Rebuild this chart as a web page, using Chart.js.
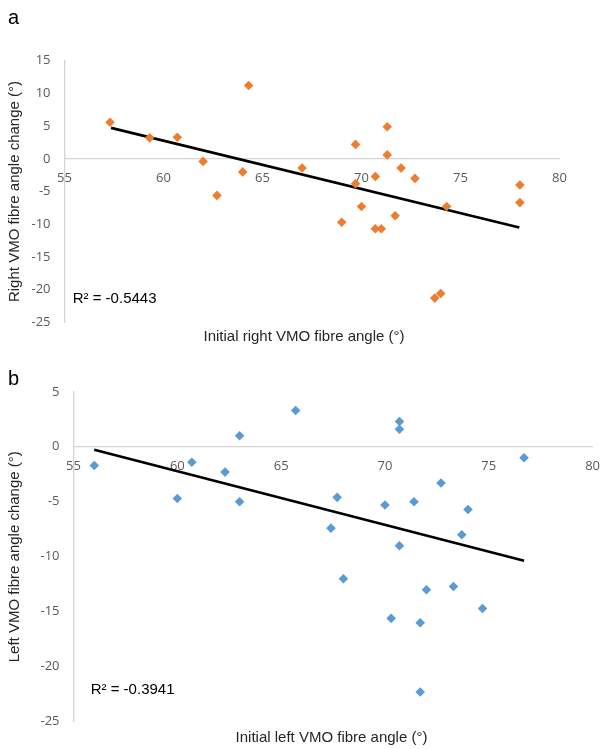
<!DOCTYPE html>
<html>
<head>
<meta charset="utf-8">
<script src="https://cdn.jsdelivr.net/npm/chart.js@4/dist/chart.umd.min.js"></script>
<style>
  html, body { margin: 0; padding: 0; background: #ffffff; }
  #wrap { position: relative; width: 612px; height: 749px; overflow: hidden; }
  canvas { position: absolute; left: 0; }
  #c1 { top: 0; }
  #c2 { top: 370px; }
</style>
</head>
<body>
<div id="wrap">
  <canvas id="c1" width="612" height="370"></canvas>
  <canvas id="c2" width="612" height="379"></canvas>
</div>
<script>
// ---- Data ----
const xTicks = [55, 60, 65, 70, 75, 80];
const yTicksTop = [15, 10, 5, 0, -5, -10, -15, -20, -25];
const yTicksBottom = [5, 0, -5, -10, -15, -20, -25];

// Panel a: right VMO
const rightInitial = [57.3, 59.3, 60.7, 62.0, 62.7, 64.0, 64.3, 67.0, 69.7, 69.7, 70.7, 71.3, 71.3, 72.0, 72.7, 78.0, 78.0, 74.3, 70.0, 69.0, 71.7, 70.7, 71.0, 73.7, 74.0];
const rightChange  = [5.6, 3.2, 3.3, -0.4, -5.6, -2.0, 11.2, -1.4, 2.2, -3.8, -2.7, 4.9, 0.6, -1.4, -3.0, -4.0, -6.7, -7.3, -7.3, -9.7, -8.7, -10.7, -10.7, -21.3, -20.6];
const rightTrendX = [57.35, 77.97];
const rightTrendY = [4.73, -10.52];
const rightR2 = "R\u00B2 = -0.5443";

// Panel b: left VMO
const leftInitial = [56.0, 60.0, 60.7, 62.3, 63.0, 63.0, 65.7, 70.7, 70.7, 76.7, 72.7, 67.7, 70.0, 71.4, 74.0, 67.4, 73.7, 70.7, 68.0, 72.0, 73.3, 74.7, 70.3, 71.7, 71.7];
const leftChange  = [-1.7, -4.7, -1.4, -2.3, 1.0, -5.0, 3.3, 2.3, 1.6, -1.0, -3.3, -4.6, -5.3, -5.0, -5.7, -7.4, -8.0, -9.0, -12.0, -13.0, -12.7, -14.7, -15.6, -16.0, -22.3];
const leftTrendX = [56.0, 76.7];
const leftTrendY = [-0.26, -10.37];
const leftR2 = "R\u00B2 = -0.3941";

const xTitleTop = "Initial right VMO fibre angle (\u00B0)";
const yTitleTop = "Right VMO fibre angle change (\u00B0)";
const xTitleBottom = "Initial left VMO fibre angle (\u00B0)";
const yTitleBottom = "Left VMO fibre angle change (\u00B0)";

// ---- Helpers ----
const zip = (xs, ys) => xs.map((x, i) => ({ x: x, y: ys[i] }));
const TICK_FONT = { family: "'Open Sans', 'Liberation Sans', sans-serif", size: 13 };
const TEXT_FAMILY = "'Liberation Sans', Arial, sans-serif";

function textPlugin(cfg) {
  return {
    id: 'panelText',
    afterDraw(chart) {
      const ctx = chart.ctx;
      ctx.save();
      // panel letter
      ctx.fillStyle = '#000';
      ctx.font = '20px ' + TEXT_FAMILY;
      ctx.textAlign = 'left';
      ctx.textBaseline = 'alphabetic';
      ctx.fillText(cfg.letter, cfg.letterX, cfg.letterY);
      // R^2 annotation
      ctx.font = '15px ' + TEXT_FAMILY;
      ctx.textBaseline = 'middle';
      ctx.fillText(cfg.r2, cfg.r2X, cfg.r2Y);
      // x-axis title
      ctx.fillStyle = '#262626';
      ctx.textAlign = 'center';
      ctx.fillText(cfg.xTitle, cfg.xTitleX, cfg.xTitleY);
      ctx.restore();
    }
  };
}

function makeChart(canvasId, opts) {
  const ticksArr = opts.yTicks;
  return new Chart(document.getElementById(canvasId), {
    type: 'scatter',
    data: {
      datasets: [
        {
          label: 'data',
          data: zip(opts.xs, opts.ys),
          pointStyle: 'rectRot',
          pointRadius: 4.8,
          pointHoverRadius: 4.8,
          backgroundColor: opts.color,
          borderColor: opts.color,
          borderWidth: 0
        },
        {
          label: 'trend',
          data: zip(opts.trendX, opts.trendY),
          showLine: true,
          pointRadius: 0,
          borderColor: '#000000',
          borderWidth: 2.6,
          fill: false
        }
      ]
    },
    options: {
      responsive: false,
      animation: false,
      devicePixelRatio: 1,
      layout: { padding: opts.padding },
      plugins: { legend: { display: false }, tooltip: { enabled: false } },
      scales: {
        x: {
          type: 'linear',
          position: { y: 0 },
          min: xTicks[0],
          max: xTicks[xTicks.length - 1],
          afterBuildTicks: (s) => { s.ticks = xTicks.map(v => ({ value: v })); },
          grid: { display: false, drawTicks: false },
          border: { display: true, color: '#d4d4d4', width: 1.3 },
          ticks: { font: TICK_FONT, color: '#595959', padding: 12, maxRotation: 0 }
        },
        y: {
          type: 'linear',
          position: 'left',
          min: ticksArr[ticksArr.length - 1],
          max: ticksArr[0],
          afterBuildTicks: (s) => { s.ticks = ticksArr.slice().reverse().map(v => ({ value: v })); },
          afterFit: (s) => { s.width = opts.yWidth; },
          grid: { display: false, drawTicks: false },
          border: { display: true, color: '#d4d4d4', width: 1.3 },
          ticks: { font: TICK_FONT, color: '#595959', padding: 14 },
          title: {
            display: true,
            text: opts.yTitle,
            color: '#262626',
            font: { family: TEXT_FAMILY, size: 15 },
            padding: { top: 6, bottom: 0 }
          }
        }
      }
    },
    plugins: [textPlugin(opts.text)]
  });
}

makeChart('c1', {
  xs: rightInitial, ys: rightChange, trendX: rightTrendX, trendY: rightTrendY,
  color: '#ED7D31', yTicks: yTicksTop, yTitle: yTitleTop, yWidth: 64.5,
  padding: { left: 0, right: 52.5, top: 60.7, bottom: 47.7 },
  text: { letter: 'a', letterX: 8, letterY: 24, r2: rightR2, r2X: 72.7, r2Y: 299,
          xTitle: xTitleTop, xTitleX: 304, xTitleY: 336.7 }
});

makeChart('c2', {
  xs: leftInitial, ys: leftChange, trendX: leftTrendX, trendY: leftTrendY,
  color: '#5B9BD5', yTicks: yTicksBottom, yTitle: yTitleBottom, yWidth: 73.5,
  padding: { left: 0, right: 9.3, top: 10.4, bottom: 27.3 },
  text: { letter: 'b', letterX: 8, letterY: 15, r2: leftR2, r2X: 90.7, r2Y: 320,
          xTitle: xTitleBottom, xTitleX: 331.5, xTitleY: 368.3 }
});
</script>
</body>
</html>
